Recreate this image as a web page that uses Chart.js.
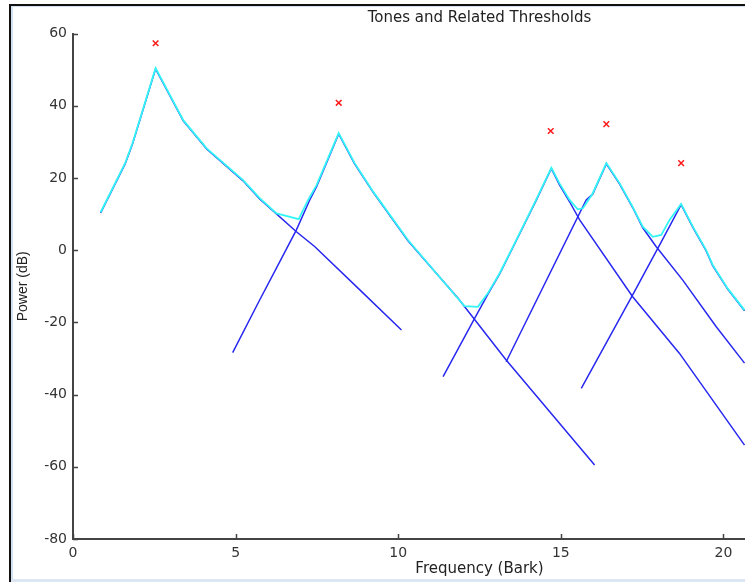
<!DOCTYPE html>
<html>
<head>
<meta charset="utf-8">
<title>Tones and Related Thresholds</title>
<script src="https://cdn.jsdelivr.net/npm/chart.js@4.4.1/dist/chart.umd.min.js"></script>
<style>
	html, body { margin: 0; padding: 0; background: #fff; overflow: hidden; }
	body { width: 745px; height: 582px; position: relative; }
	#frame { position: absolute; left: 9px; top: 4px; width: 740px; height: 580px; border-left: 2px solid #111; border-top: 2px solid #111; }
	#frameInner { position: absolute; left: 11px; top: 6px; width: 740px; height: 580px; border-left: 2px solid #d3e0f2; border-top: 1px solid #d3e0f2; }
	#frameBottom { position: absolute; left: 11px; top: 579px; width: 740px; height: 3px; background: #dde6f3; }
	#toneChart { position: absolute; left: 0; top: 0; }
</style>
</head>
<body>
<div id="frame"></div>
<div id="frameInner"></div>
<div id="frameBottom"></div>
<canvas id="toneChart" width="906" height="582"></canvas>
<script>
// tick labels
var xTicks = [0, 5, 10, 15, 20, 25];
var yTicks = [-80, -60, -40, -20, 0, 20, 40, 60];

// tones (red crosses)
var toneBark = [2.54, 8.17, 14.69, 16.40, 18.70];
var tonePower = [57.3, 40.8, 33.0, 34.9, 24.1];

// global masking threshold (cyan)
var globalBark = [0.85, 1.60, 1.83, 2.54, 3.39, 4.11, 5.23, 5.74, 6.26, 6.94, 7.23, 7.49, 8.17, 8.66, 9.23, 10.30, 11.79, 12.04, 12.45, 12.76, 13.12, 13.58, 14.24, 14.71, 14.96, 15.27, 15.52, 15.68, 15.98, 16.40, 16.81, 17.21, 17.52, 17.83, 18.09, 18.34, 18.70, 19.06, 19.47, 19.67, 20.13, 20.65];
var globalPower = [10.5, 24.0, 29.6, 50.4, 36.0, 28.2, 19.4, 14.4, 10.2, 8.6, 13.9, 18.0, 32.4, 24.1, 16.2, 2.8, -12.9, -15.5, -15.7, -11.9, -6.4, 1.9, 13.9, 22.8, 18.5, 13.9, 11.3, 11.6, 15.7, 24.1, 18.5, 12.0, 6.5, 3.7, 4.2, 8.3, 12.8, 6.5, 0.0, -4.1, -10.6, -16.6];

// individual thresholds (blue), one per tone
var mask1Bark = [0.85, 1.60, 1.83, 2.54, 3.39, 4.11, 5.23, 5.74, 6.87, 7.43, 8.82, 10.10];
var mask1Power = [10.3, 23.8, 29.4, 50.2, 35.8, 28.0, 19.2, 14.2, 5.1, 1.0, -11.0, -22.1];
var mask2Bark = [4.91, 5.74, 6.36, 6.87, 7.28, 7.49, 8.17, 8.66, 9.23, 10.30, 11.84, 13.32, 16.04];
var mask2Power = [-28.4, -13.8, -3.2, 5.6, 13.9, 17.6, 32.2, 23.9, 16.0, 2.6, -13.3, -30.4, -59.5];
var mask3Bark = [11.38, 12.35, 12.76, 13.12, 13.58, 14.24, 14.71, 14.96, 15.27, 15.58, 17.21, 18.65, 20.65];
var mask3Power = [-35.0, -18.9, -12.2, -6.6, 1.7, 13.7, 22.6, 18.1, 13.4, 8.4, -12.9, -28.6, -54.0];
var mask4Bark = [13.32, 15.78, 15.98, 16.40, 16.81, 17.21, 17.52, 17.93, 18.75, 19.78, 20.65];
var mask4Power = [-30.9, 13.9, 15.5, 23.9, 18.3, 11.8, 6.2, 1.0, -8.3, -21.2, -31.3];
var mask5Bark = [15.63, 17.21, 18.09, 18.70, 19.06, 19.47, 19.67, 20.13, 20.65];
var mask5Power = [-38.3, -12.4, 2.3, 12.6, 6.3, -0.2, -4.3, -10.8, -16.8];

function toPoints(xs, ys) {
	return xs.map(function(x, i) { return { x: x, y: ys[i] }; });
}

var axisColor = '#444444';
var blueLine = '#2828f0';

function maskSet(xs, ys) {
	return {
		data: toPoints(xs, ys),
		showLine: true,
		borderColor: blueLine,
		borderWidth: 1.5,
		pointRadius: 0,
		order: 2
	};
}

// ticks point into the plot, drawn from the scale positions
var innerTicks = {
	id: 'innerTicks',
	afterDraw: function(chart) {
		var ctx = chart.ctx, area = chart.chartArea;
		var xs = chart.scales.x, ys = chart.scales.y;
		ctx.save();
		ctx.strokeStyle = axisColor;
		ctx.lineWidth = 1.5;
		ctx.beginPath();
		xs.ticks.forEach(function(t) {
			var px = Math.round(xs.getPixelForValue(t.value)) + 0.5;
			ctx.moveTo(px, area.bottom);
			ctx.lineTo(px, area.bottom - 5);
		});
		ys.ticks.forEach(function(t) {
			var py = Math.round(ys.getPixelForValue(t.value)) + 0.5;
			ctx.moveTo(area.left, py);
			ctx.lineTo(area.left + 5, py);
		});
		ctx.stroke();
		ctx.restore();
	}
};

var toneChart = new Chart(document.getElementById('toneChart'), {
	type: 'scatter',
	data: {
		datasets: [
			{
				data: toPoints(toneBark, tonePower),
				showLine: false,
				pointStyle: 'crossRot',
				pointRadius: 4,
				borderColor: '#ff1a1a',
				backgroundColor: '#ff1a1a',
				pointBorderWidth: 1.5,
				order: 0
			},
			{
				data: toPoints(globalBark, globalPower),
				showLine: true,
				borderColor: '#33f5f5',
				borderWidth: 1.8,
				pointRadius: 0,
				order: 1
			},
			maskSet(mask1Bark, mask1Power),
			maskSet(mask2Bark, mask2Power),
			maskSet(mask3Bark, mask3Power),
			maskSet(mask4Bark, mask4Power),
			maskSet(mask5Bark, mask5Power)
		]
	},
	plugins: [innerTicks],
	options: {
		responsive: false,
		animation: false,
		devicePixelRatio: 1,
		layout: {
			padding: { left: 0, right: 20, top: 0, bottom: 0 }
		},
		plugins: {
			legend: { display: false },
			tooltip: { enabled: false },
			title: {
				display: true,
				fullSize: false,
				text: 'Tones and Related Thresholds',
				color: '#222222',
				font: { family: 'DejaVu Sans', size: 15, weight: 'normal' },
				padding: { top: 9.5, bottom: 6 }
			}
		},
		scales: {
			x: {
				type: 'linear',
				min: 0,
				max: 25,
				afterBuildTicks: function(scale) {
					scale.ticks = xTicks.map(function(v) { return { value: v }; });
				},
				afterFit: function(scale) {
					scale.height = 43;
				},
				grid: { display: false, drawTicks: false },
				border: { display: true, color: axisColor, width: 2 },
				ticks: {
					color: '#333333',
					padding: 6,
					maxRotation: 0,
					font: { family: 'DejaVu Sans', size: 14 }
				},
				title: {
					display: true,
					text: 'Frequency (Bark)',
					color: '#222222',
					font: { family: 'DejaVu Sans', size: 15 },
					padding: { top: 0, bottom: 4 }
				}
			},
			y: {
				type: 'linear',
				min: -80,
				max: 60,
				afterBuildTicks: function(scale) {
					scale.ticks = yTicks.map(function(v) { return { value: v }; });
				},
				afterFit: function(scale) {
					scale.width = 73;
				},
				grid: { display: false, drawTicks: false },
				border: { display: true, color: axisColor, width: 2 },
				ticks: {
					color: '#333333',
					padding: 6,
					font: { family: 'DejaVu Sans', size: 14 }
				},
				title: {
					display: true,
					text: 'Power (dB)',
					color: '#222222',
					font: { family: 'Liberation Sans', size: 14 },
					padding: { top: 15, bottom: 0 }
				}
			}
		}
	}
});
</script>
</body>
</html>
